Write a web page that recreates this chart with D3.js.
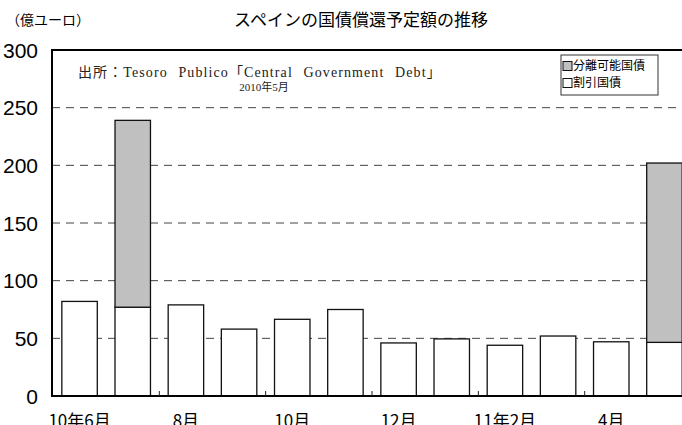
<!DOCTYPE html>
<html><head><meta charset="utf-8">
<script src="https://cdn.jsdelivr.net/npm/d3@7"></script>
<style>
html,body{margin:0;padding:0;background:#fff;overflow:hidden}
svg{display:block}
</style></head>
<body><svg id="c" width="682" height="425"></svg>
<script>
const months = ["10年6月","7月","8月","9月","10月","11月","12月","11年1月","11年2月","3月","4月","5月"];
const tickLabels = ["10年6月","","8月","","10月","","12月","","11年2月","","4月",""];
const discount = [82, 77, 79, 58, 66.5, 75, 46, 49.5, 44, 52, 47, 46.5];     // 割引国債
const strippable = [0, 162, 0, 0, 0, 0, 0, 0, 0, 0, 0, 155.5];              // 分離可能国債
const yTicks = [0, 50, 100, 150, 200, 250, 300];
const seriesNames = ["分離可能国債", "割引国債"];

const svg = d3.select("#c");
const padL = 52, padT = 50, padB = 396, padR = 692;
const y = d3.scaleLinear().domain([0, 300]).range([padB, padT]);
const x = d3.scaleBand().domain(months).range([padL, padR]).paddingInner(0.333).paddingOuter(0.185);

const rows = months.map((m, i) => ({m, d: discount[i], s: strippable[i]}));
const stack = d3.stack().keys(["d", "s"])(rows);

// gridlines
svg.append("g").selectAll("line").data(yTicks.filter(t => t > 0 && t < 300)).join("line")
  .attr("x1", padL).attr("x2", 682).attr("y1", d => y(d)).attr("y2", d => y(d))
  .attr("stroke", "#444").attr("stroke-width", 1).attr("stroke-dasharray", "8,6");

// bars
const colors = {d: "#ffffff", s: "#c0c0c0"};
stack.forEach(layer => {
  svg.append("g").selectAll("rect").data(layer.filter(p => p[1] - p[0] > 0)).join("rect")
    .attr("x", p => x(p.data.m)).attr("width", x.bandwidth())
    .attr("y", p => y(p[1])).attr("height", p => y(p[0]) - y(p[1]))
    .attr("fill", colors[layer.key]).attr("stroke", "#111").attr("stroke-width", 1.3);
});

// frame
svg.append("line").attr("x1", padL).attr("x2", 682).attr("y1", y(300)).attr("y2", y(300)).attr("stroke", "#000").attr("stroke-width", 2);
svg.append("line").attr("x1", padL).attr("x2", 682).attr("y1", y(0)).attr("y2", y(0)).attr("stroke", "#000").attr("stroke-width", 2);
svg.append("line").attr("x1", padL).attr("x2", padL).attr("y1", y(300) - 1).attr("y2", y(0) + 1).attr("stroke", "#000").attr("stroke-width", 2);

// x ticks at band boundaries (every two months)
const step = x.step();
svg.append("g").selectAll("line").data(months.filter((m, i) => i % 2 === 1 && i < months.length - 1)).join("line")
  .attr("x1", m => x(m) + x.bandwidth() + (step - x.bandwidth()) / 2)
  .attr("x2", m => x(m) + x.bandwidth() + (step - x.bandwidth()) / 2)
  .attr("y1", y(0)).attr("y2", y(0) - 5).attr("stroke", "#222").attr("stroke-width", 1);

// y labels
svg.append("g").selectAll("text").data(yTicks).join("text")
  .attr("x", 38).attr("y", d => y(d)).attr("dy", "0.36em").attr("text-anchor", "end")
  .attr("font-family", "'Liberation Sans Narrow','Arial Narrow','Liberation Sans',sans-serif")
  .attr("font-size", 21).attr("fill", "#000").text(d => d);

// x labels
svg.append("g").selectAll("text").data(months.map((m, i) => ({m, t: tickLabels[i]})).filter(d => d.t)).join("text")
  .attr("x", d => x(d.m) + x.bandwidth() / 2).attr("y", 427).attr("text-anchor", "middle")
  .attr("font-family", "'Liberation Sans Narrow','Noto Sans CJK JP',sans-serif")
  .attr("font-size", 17).attr("fill", "#000").text(d => d.t);

// titles
svg.append("text").attr("x", 361).attr("y", 26).attr("text-anchor", "middle")
  .attr("font-family", "'Noto Sans CJK JP',sans-serif").attr("font-size", 17).text("スペインの国債償還予定額の推移");
svg.append("text").attr("x", 6).attr("y", 25)
  .attr("font-family", "'Noto Sans CJK JP',sans-serif").attr("font-size", 14).text("（億ユーロ）");

// source
svg.append("text").attr("x", 78).attr("y", 77)
  .style("white-space", "pre").style("word-spacing", "6px").style("letter-spacing", "1.1px")
  .attr("font-family", "'Liberation Serif','Noto Sans CJK JP',serif").attr("font-size", 14)
  .attr("fill", "#222").text("出所：Tesoro Publico「Central Government Debt」");
svg.append("text").attr("x", 264).attr("y", 91).attr("text-anchor", "middle")
  .attr("font-family", "'Liberation Serif','Noto Sans CJK JP',serif").attr("font-size", 11)
  .attr("fill", "#222").text("2010年5月");

// legend
const lg = svg.append("g");
lg.append("rect").attr("x", 561).attr("y", 55).attr("width", 97).attr("height", 40)
  .attr("fill", "#fff").attr("stroke", "#333").attr("stroke-width", 1);
const legendFill = ["#c0c0c0", "#ffffff"];
seriesNames.forEach((n, i) => {
  const cy = 66 + i * 17;
  lg.append("rect").attr("x", 563).attr("y", cy - 4.5).attr("width", 9).attr("height", 9)
    .attr("fill", legendFill[i]).attr("stroke", "#111").attr("stroke-width", 1);
  lg.append("text").attr("x", 573).attr("y", cy).attr("dy", "0.36em")
    .attr("font-family", "'Noto Sans CJK JP',sans-serif").attr("font-size", 12).text(n);
});
</script></body></html>
